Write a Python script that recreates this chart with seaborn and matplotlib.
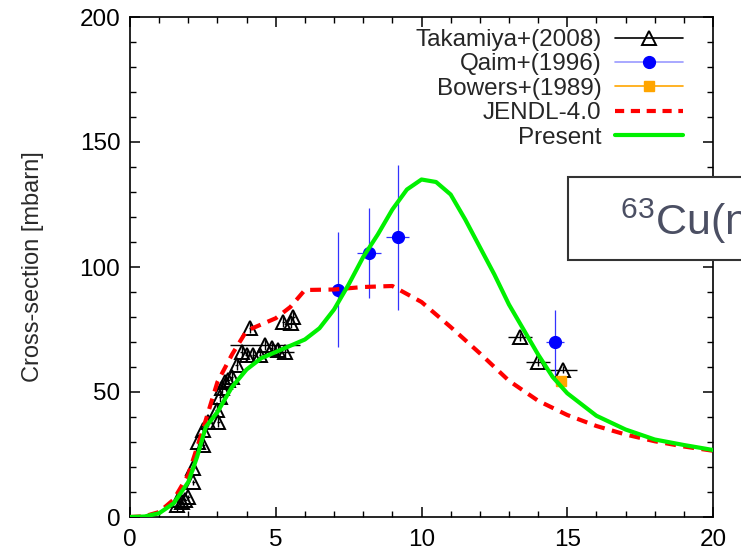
import matplotlib
matplotlib.use("Agg")
import matplotlib.pyplot as plt
import seaborn as sns
import pandas as pd
from matplotlib.lines import Line2D
from matplotlib.patches import Rectangle
from matplotlib.ticker import MultipleLocator

# Curvas calculadas (energia [MeV], secao de choque [mbarn])
present_e = [0, 0.5, 1.0, 1.5, 2.0, 2.3, 2.6, 3.0, 3.5, 4.0, 4.5, 5.0, 5.5, 6.0, 6.5, 7.0,
             7.5, 8.0, 8.5, 9.0, 9.5, 10.0, 10.5, 11.0, 11.5, 12.0, 12.5, 13.0, 13.5,
             14.0, 14.5, 15.0, 16.0, 17.0, 18.0, 19.0, 20.0]
present_xs = [0, 0.2, 1.5, 5.5, 14, 24, 36, 42, 52, 59, 63.5, 66, 68.5, 71, 75.5, 83,
              93, 104, 113, 123, 131, 135, 134, 129, 119, 108, 97, 85, 75,
              65, 56, 49.5, 40.5, 35, 31, 28.8, 26.8]

jendl_e = [0, 0.5, 1.0, 1.5, 2.0, 2.5, 3.0, 3.5, 4.0, 4.5, 5.0, 5.5, 6.0, 7.0, 8.0, 9.0,
           10.0, 11.0, 12.0, 13.0, 14.0, 15.0, 16.0, 17.0, 18.0, 19.0, 20.0]
jendl_xs = [0, 0.3, 2, 7, 17, 35, 54, 65, 74.5, 77, 79.5, 84, 90.8, 91, 92, 92.4,
            86, 76, 65.5, 54.5, 46.5, 40.8, 36.4, 33, 30.3, 28.2, 26.5]

# Dados experimentais
takamiya_e = [1.6, 1.66, 1.77, 1.89, 2.0, 2.17, 2.17, 2.34, 2.51, 2.51, 2.69, 2.97, 3.03,
              3.09, 3.14, 3.26, 3.37, 3.49, 3.66, 3.83, 4.0, 4.12, 4.23, 4.46, 4.63,
              4.86, 5.09, 5.26, 5.32, 5.54, 5.6, 13.38, 14.0, 14.84]
takamiya_xs = [5, 6.8, 6.0, 6.8, 8, 14, 19.5, 30, 28.8, 34.8, 38, 42.8, 38,
               48, 51.5, 54, 54.8, 56, 60.8, 66, 64.8, 75.5, 64.8, 64.8, 69,
               67.5, 66.8, 78, 66, 77.5, 80, 72, 62, 59]
takamiya_dx = [0.05, 0.05, 0.05, 0.05, 0.05, 0.05, 0.05, 0.05, 0.05, 0.05, 0.05, 0.05, 0.05,
               0.05, 0.05, 0.05, 0.05, 0.05, 0.05, 0.05, 0.05, 0.05, 0.05, 0.05, 1.2,
               0.05, 0.05, 0.05, 0.3, 0.05, 0.05, 0.4, 0.4, 0.5]
takamiya_dy = [3, 1, 1, 1, 1, 1, 1, 1.5, 1.5, 1.5, 2, 2, 2,
               2, 2, 2, 2, 2, 2, 2, 2, 2, 2, 2, 2,
               2, 2, 2, 2, 2, 2, 1.5, 1.5, 1.5]

qaim_e = [7.15, 8.2, 9.18, 14.58]
qaim_xs = [91, 105.5, 112, 70]
qaim_dx = [0.1, 0.4, 0.4, 0.3]
qaim_dy = [23, 18, 29, 13]

bowers_e = [14.78]
bowers_xs = [54.4]
bowers_dy = [2]

sns.set_theme(style="ticks", rc={
    "xtick.direction": "in", "ytick.direction": "in",
    "xtick.top": True, "ytick.right": True,
    "xtick.major.size": 7, "ytick.major.size": 7,
    "xtick.minor.size": 4, "ytick.minor.size": 4,
    "xtick.major.width": 1.1, "ytick.major.width": 1.1,
    "xtick.minor.width": 1.0, "ytick.minor.width": 1.0,
    "axes.linewidth": 1.2, "axes.edgecolor": "black",
    "xtick.color": "black", "ytick.color": "black",
})
plt.rcParams["font.family"] = ["Liberation Sans", "DejaVu Sans"]
plt.rcParams["mathtext.fontset"] = "custom"
plt.rcParams["mathtext.rm"] = "Liberation Sans"

fig = plt.figure(figsize=(7.41, 5.56), dpi=100)
ax = fig.add_axes([130 / 741, 1 - 517 / 556, 583 / 741, 500 / 556])

# Pontos experimentais
ax.errorbar(takamiya_e, takamiya_xs, xerr=takamiya_dx, yerr=takamiya_dy, fmt="^",
            color="black", mfc="none", mec="black", ms=10.5, mew=1.4, elinewidth=1.0, zorder=3)
ax.errorbar(qaim_e, qaim_xs, xerr=qaim_dx, yerr=qaim_dy, fmt="o", color="#0000ff",
            ecolor="#3333ff", ms=8.5, elinewidth=0.9, zorder=3)
ax.errorbar(bowers_e, bowers_xs, yerr=bowers_dy, fmt="s", color="#ffa500",
            ecolor="#ffa500", ms=7.5, elinewidth=1.0, zorder=3)

# Curvas
df_jendl = pd.DataFrame({"e": jendl_e, "xs": jendl_xs})
df_present = pd.DataFrame({"e": present_e, "xs": present_xs})
sns.lineplot(data=df_jendl, x="e", y="xs", ax=ax, color="#ff0000", lw=3,
             estimator=None, sort=False, zorder=4).lines[-1].set_dashes([2.6, 1.8])
sns.lineplot(data=df_present, x="e", y="xs", ax=ax, color="#00f000", lw=3,
             estimator=None, sort=False, zorder=5)

ax.set_xlim(0, 20)
ax.set_ylim(0, 200)
ax.xaxis.set_major_locator(MultipleLocator(5))
ax.xaxis.set_minor_locator(MultipleLocator(1))
ax.yaxis.set_major_locator(MultipleLocator(50))
ax.yaxis.set_minor_locator(MultipleLocator(10))
ax.tick_params(which="both", labelsize=17.5, pad=7, colors="black")
ax.tick_params(axis="x", pad=9)
ax.set_xlabel("")
ax.set_ylabel("Cross-section [mbarn]", fontsize=17, color="#2a2a2a")
ax.yaxis.set_label_coords(-0.148, 0.5)

handles = [
    Line2D([], [], color="black", lw=1.2, marker="^", mfc="none", mec="black", ms=10, mew=1.4),
    Line2D([], [], color="#9999ff", lw=1.2, marker="o", mfc="#0000ff", mec="#0000ff", ms=8.5),
    Line2D([], [], color="#ffa500", lw=1.2, marker="s", mfc="#ffa500", mec="#ffa500", ms=7.5),
    Line2D([], [], color="#ff0000", lw=3, ls=(0, (2.2, 1.6))),
    Line2D([], [], color="#00f000", lw=3),
]
labels = ["Takamiya+(2008)", "Qaim+(1996)", "Bowers+(1989)", "JENDL-4.0", "Present"]
ax.legend(handles, labels, loc="upper right", bbox_to_anchor=(0.9485, 0.976),
          frameon=False, markerfirst=False, fontsize=17.5, labelspacing=0.1,
          handlelength=2.8, handletextpad=0.55, borderpad=0, borderaxespad=0)

# Caixa do titulo da reacao (cortada na borda da figura, como no original)
fig.patches.append(Rectangle((568 / 741, 1 - 260 / 556), 0.4, 83 / 556,
                             transform=fig.transFigure, facecolor="white",
                             edgecolor="#333333", lw=1.5, zorder=10))
fig.text(620 / 741, 1 - 221 / 556, "$^{63}$Cu(n,p)$^{63}$Ni", fontsize=31,
         color="#4b4f63", va="center", ha="left", zorder=11)

fig.savefig("out.png", dpi=100)
